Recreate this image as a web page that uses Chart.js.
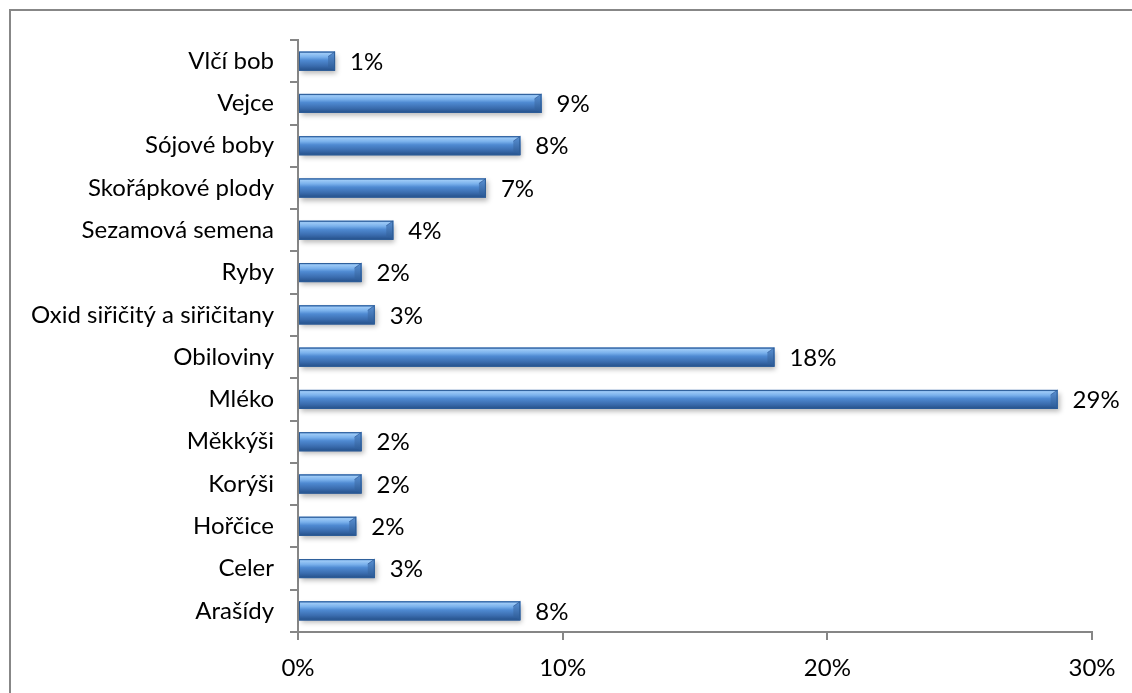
<!DOCTYPE html>
<html>
<head>
<meta charset="utf-8">
<script src="https://cdn.jsdelivr.net/npm/chart.js@4"></script>
<style>
  html, body { margin: 0; padding: 0; background: #fff; }
  #wrap { width: 1132px; height: 693px; }
</style>
</head>
<body>
<div id="wrap"><canvas id="chart" width="1132" height="693"></canvas></div>
<script>
// alergeny - podíl v %
var categories = [
  'Vlčí bob',
  'Vejce',
  'Sójové boby',
  'Skořápkové plody',
  'Sezamová semena',
  'Ryby',
  'Oxid siřičitý a siřičitany',
  'Obiloviny',
  'Mléko',
  'Měkkýši',
  'Korýši',
  'Hořčice',
  'Celer',
  'Arašídy'
];
var values = [1.4, 9.2, 8.4, 7.1, 3.6, 2.4, 2.9, 18.0, 28.7, 2.4, 2.4, 2.2, 2.9, 8.4];
var xTicks = [0, 10, 20, 30];

var FONT = 'Lato';
var FONT_SIZE = 24;

// outer frame of the chart object
var framePlugin = {
  id: 'frame',
  beforeDraw: function (chart) {
    var c = chart.ctx;
    c.save();
    c.fillStyle = '#fff';
    c.fillRect(0, 0, chart.width, chart.height);
    c.strokeStyle = '#878787';
    c.lineWidth = 2;
    c.strokeRect(10, 10, chart.width + 20, chart.height + 20);
    c.restore();
  }
};

// shaded bars with a bevel at the end, plus value labels
var bevelPlugin = {
  id: 'bevel',
  afterDatasetsDraw: function (chart) {
    var c = chart.ctx;
    var meta = chart.getDatasetMeta(0);
    meta.data.forEach(function (bar, i) {
      var x0 = bar.base, x1 = bar.x;
      var h = bar.height, top = bar.y - h / 2, bot = bar.y + h / 2;
      c.save();
      // soft drop shadow
      c.shadowColor = 'rgba(0,0,0,0.28)';
      c.shadowBlur = 5;
      c.shadowOffsetX = 2;
      c.shadowOffsetY = 3;
      c.fillStyle = '#3a6db0';
      c.fillRect(x0, top, x1 - x0, h);
      c.restore();

      c.save();
      var g = c.createLinearGradient(0, top, 0, bot);
      g.addColorStop(0, '#5a95da');
      g.addColorStop(0.1, '#9cc9f6');
      g.addColorStop(0.28, '#7ab1ec');
      g.addColorStop(0.45, '#4f8ad2');
      g.addColorStop(0.75, '#3a6cae');
      g.addColorStop(1, '#244f88');
      c.fillStyle = g;
      c.fillRect(x0, top, x1 - x0, h);
      // right bevel
      var b = Math.min(7, (x1 - x0) / 3);
      c.beginPath();
      c.moveTo(x1 - b, top + 5);
      c.lineTo(x1, top);
      c.lineTo(x1, bot);
      c.lineTo(x1 - b, bot - 4);
      c.closePath();
      var gb = c.createLinearGradient(0, top, 0, bot);
      gb.addColorStop(0, '#5b92d4');
      gb.addColorStop(1, '#2a5894');
      c.fillStyle = gb;
      c.fill();
      c.strokeStyle = 'rgba(40,80,140,0.6)';
      c.lineWidth = 1;
      c.beginPath();
      c.moveTo(x1 - b, top + 5);
      c.lineTo(x1, top);
      c.stroke();
      // outline
      c.strokeStyle = '#2d5d98';
      c.strokeRect(x0 + 0.5, top + 0.5, x1 - x0 - 1, h - 1);
      c.restore();

      // value label
      c.save();
      c.fillStyle = '#000';
      c.font = FONT_SIZE + 'px ' + FONT;
      c.textAlign = 'left';
      c.textBaseline = 'middle';
      c.fillText(Math.round(values[i]) + '%', x1 + 15, bar.y + 1);
      c.restore();
    });
  }
};

var ctx = document.getElementById('chart').getContext('2d');
var chart = new Chart(ctx, {
  type: 'bar',
  data: {
    labels: categories,
    datasets: [{
      data: values,
      backgroundColor: 'rgba(0,0,0,0)',
      borderWidth: 0,
      categoryPercentage: 1,
      barPercentage: 0.45
    }]
  },
  options: {
    indexAxis: 'y',
    responsive: false,
    animation: false,
    layout: { padding: { top: 40, right: 40, bottom: 0, left: 0 } },
    plugins: {
      legend: { display: false },
      tooltip: { enabled: false }
    },
    scales: {
      x: {
        min: 0,
        max: 30,
        afterBuildTicks: function (scale) {
          scale.ticks = xTicks.map(function (v) { return { value: v }; });
        },
        afterFit: function (scale) { scale.height = 61; },
        grid: {
          drawOnChartArea: false,
          drawTicks: true,
          tickLength: 8,
          color: '#868686',
          lineWidth: 2
        },
        border: { color: '#868686', width: 2 },
        ticks: {
          padding: 14,
          color: '#000',
          font: { family: FONT, size: FONT_SIZE },
          callback: function (v) { return v + '%'; }
        }
      },
      y: {
        afterFit: function (scale) { scale.width = 298; },
        grid: {
          offset: true,
          drawOnChartArea: false,
          drawTicks: true,
          tickLength: 8,
          color: '#868686',
          lineWidth: 2
        },
        border: { color: '#868686', width: 2 },
        ticks: {
          padding: 16,
          color: '#000',
          font: { family: FONT, size: FONT_SIZE }
        }
      }
    }
  },
  plugins: [framePlugin, bevelPlugin]
});
</script>
</body>
</html>
